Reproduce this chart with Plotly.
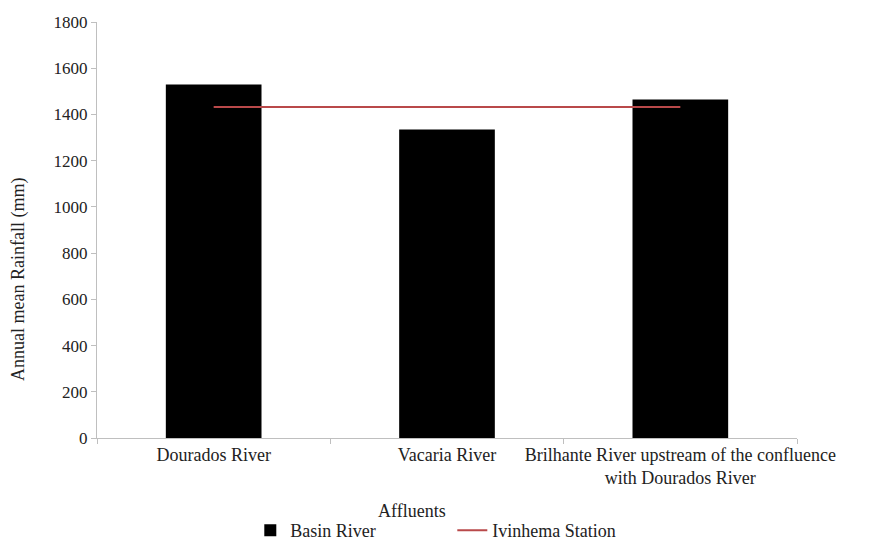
import plotly.graph_objects as go

categories = ["Dourados River", "Vacaria River",
              "Brilhante River upstream of the confluence<br>with Dourados River"]
basin_values = [1530, 1335, 1465]
station_values = [1432, 1432, 1432]
y_ticks = [0, 200, 400, 600, 800, 1000, 1200, 1400, 1600, 1800]

font_family = "Liberation Serif"
txt = "#222"

fig = go.Figure()
fig.add_trace(go.Bar(
    x=categories, y=basin_values, name="Basin River",
    marker=dict(color="black", line=dict(width=0)),
))
fig.add_trace(go.Scatter(
    x=categories, y=station_values, name="Ivinhema Station", mode="lines",
    line=dict(color="#B9494A", width=2),
))

fig.update_layout(
    width=870, height=544,
    paper_bgcolor="white", plot_bgcolor="white",
    margin=dict(l=89, r=81, t=14, b=114, autoexpand=False),
    font=dict(family=font_family, size=18, color=txt),
    bargap=0.59,
    showlegend=True,
    legend=dict(orientation="h", x=0.219, y=-0.178, xanchor="left", yanchor="top",
                entrywidth=157, entrywidthmode="pixels",
                font=dict(family=font_family, size=18, color=txt),
                bgcolor="rgba(0,0,0,0)"),
    xaxis=dict(
        showgrid=False, showline=True, linecolor="#BFBFBF", linewidth=1,
        ticks="outside", tickson="boundaries", ticklen=5, tickcolor="#BFBFBF",
        tickangle=0, automargin=False,
        tickfont=dict(family=font_family, size=18, color=txt),
    ),
    yaxis=dict(
        range=[0, 1800], tickvals=y_ticks, showgrid=False, zeroline=False,
        showline=True, linecolor="#BFBFBF", linewidth=1,
        ticks="outside", ticklen=5, tickcolor="#BFBFBF", automargin=False,
        tickfont=dict(family=font_family, size=17, color=txt),
    ),
    annotations=[
        dict(text="Affluents", xref="paper", yref="paper",
             x=0.45, y=-0.1755, xanchor="center", yanchor="middle",
             showarrow=False,
             font=dict(family=font_family, size=18, color=txt)),
        dict(text="Annual mean Rainfall (mm)", xref="paper", yref="paper",
             x=-0.1114, y=0.38, xanchor="center", yanchor="middle",
             textangle=-90, showarrow=False,
             font=dict(family=font_family, size=18, color=txt)),
    ],
)

fig.write_html("out.html")
